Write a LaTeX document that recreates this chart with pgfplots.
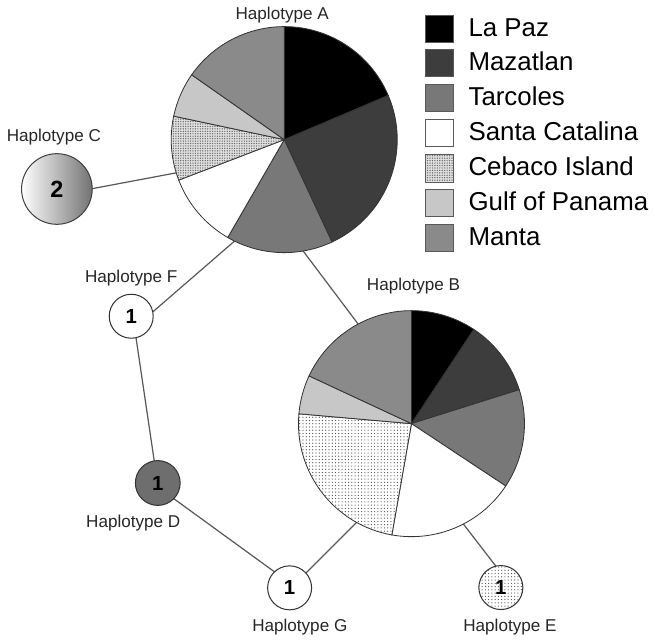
\documentclass[border=0pt]{standalone}
\usepackage{fontspec}
\setmainfont{Liberation Sans}
\usepackage{pgfplots}
\pgfplotsset{compat=1.18}
\usetikzlibrary{patterns.meta}

\newcommand{\R}{55.5pt}
\newcommand{\slice}[5]{\filldraw[#5] (axis cs:#1,#2) -- ++(#3:\R) arc[start angle=#3, end angle=#4, radius=\R] -- cycle;}
\newcommand{\labfont}{\fontsize{8.4}{10}\selectfont}
\newcommand{\legfont}{\fontsize{12.7}{15}\selectfont}
\newcommand{\numfont}{\fontsize{10}{12}\selectfont\bfseries}

\tikzset{
  pieline/.style={draw=black!80, line width=0.4pt},
  lapaz/.style={pieline, fill=black},
  mazatlan/.style={pieline, fill=black!76},
  tarcoles/.style={pieline, fill=black!53},
  santacat/.style={pieline, fill=white},
  cebacoA/.style={pieline, fill=black!12, postaction={pattern={Dots[distance=1.2pt,radius=0.35pt]}, pattern color=black!60}},
  cebacoB/.style={pieline, fill=white, postaction={pattern={Dots[distance=1.6pt,radius=0.3pt]}, pattern color=black!70}},
  gulf/.style={pieline, fill=black!22},
  manta/.style={pieline, fill=black!46},
  edge/.style={black!65, line width=0.6pt},
}

\begin{document}
\begin{tikzpicture}
\begin{axis}[
  scale only axis, width=327.5pt, height=318pt,
  xmin=0, xmax=655, ymin=0, ymax=636, y dir=reverse,
  hide axis, clip=false]

% network edges
\addplot[edge] coordinates {(95,194) (188,176.5)};        % C - A
\addplot[edge] coordinates {(158,315) (250,235.3)};       % F - A
\addplot[edge] coordinates {(298,243) (365,332)};         % A - B
\addplot[edge] coordinates {(141,330) (162,472)};         % F - D
\addplot[edge] coordinates {(175,494.4) (280,570.7)};     % D - G
\addplot[edge] coordinates {(293.3,586.8) (370,510)};     % G - B
\addplot[edge] coordinates {(499,568) (445,498)};         % E - B

% Haplotype A pie (degrees): 67, 88, 55, 39, 33, 23, 55
\slice{288}{145}{90}{23}{lapaz}
\slice{288}{145}{23}{-65}{mazatlan}
\slice{288}{145}{-65}{-120}{tarcoles}
\slice{288}{145}{-120}{-159}{santacat}
\slice{288}{145}{-159}{-192}{cebacoA}
\slice{288}{145}{-192}{-215}{gulf}
\slice{288}{145}{-215}{-270}{manta}

% Haplotype B pie (degrees): 33.5, 39, 51, 66.5, 85, 20, 65
\slice{413}{424}{90}{56.5}{lapaz}
\slice{413}{424}{56.5}{17.5}{mazatlan}
\slice{413}{424}{17.5}{-33.5}{tarcoles}
\slice{413}{424}{-33.5}{-100}{santacat}
\slice{413}{424}{-100}{-185}{cebacoB}
\slice{413}{424}{-185}{-205}{gulf}
\slice{413}{424}{-205}{-270}{manta}

% Haplotype C
\shadedraw[left color=white, right color=black!55, draw=black!75, line width=0.5pt] (axis cs:64.7,193.5) circle[radius=17.35pt];
\node[font=\fontsize{11.5}{13}\selectfont\bfseries] at (axis cs:64.7,193.5) {2};

% Haplotypes F, G (white), D (grey)
\addplot[only marks, mark=*, mark size=10.8pt,
  mark options={fill=white, draw=black!80, line width=0.5pt},
  nodes near coords, point meta=explicit symbolic,
  every node near coord/.append style={anchor=center, font=\numfont}]
  coordinates {(137.7,318.5) [1] (293.3,585.3) [1]};
\addplot[only marks, mark=*, mark size=11pt,
  mark options={fill=black!57, draw=black!80, line width=0.5pt},
  nodes near coords, point meta=explicit symbolic,
  every node near coord/.append style={anchor=center, font=\numfont}]
  coordinates {(163.8,482.3) [1]};
% Haplotype E (dotted, one individual)
\filldraw[cebacoB, draw=black!80, line width=0.5pt] (axis cs:500.8,585) circle[radius=10.8pt];
\node[font=\numfont] at (axis cs:500.8,585) {1};

% labels
\node[anchor=base, font=\labfont, text=black!85] at (axis cs:286,26.7) {Haplotype A};
\node[anchor=base, font=\labfont, text=black!85] at (axis cs:415,293.3) {Haplotype B};
\node[anchor=base, font=\labfont, text=black!85] at (axis cs:61.7,147.3) {Haplotype C};
\node[anchor=base, font=\labfont, text=black!85] at (axis cs:137.7,285) {Haplotype F};
\node[anchor=base, font=\labfont, text=black!85] at (axis cs:139.7,525.7) {Haplotype D};
\node[anchor=base, font=\labfont, text=black!85] at (axis cs:303.3,628.3) {Haplotype G};
\node[anchor=base, font=\labfont, text=black!85] at (axis cs:509.7,628.3) {Haplotype E};

% legend
\filldraw[lapaz, draw=black!65, line width=0.5pt] (axis cs:426.7,22.7) rectangle (axis cs:454,49.4);
\node[anchor=base west, font=\legfont] at (axis cs:462,43.3) {La Paz};
\filldraw[mazatlan, draw=black!65, line width=0.5pt] (axis cs:426.7,56.7) rectangle (axis cs:454,83.4);
\node[anchor=base west, font=\legfont] at (axis cs:462,77.3) {Mazatlan};
\filldraw[tarcoles, draw=black!65, line width=0.5pt] (axis cs:426.7,90.7) rectangle (axis cs:454,117.4);
\node[anchor=base west, font=\legfont] at (axis cs:462,111.3) {Tarcoles};
\filldraw[santacat, draw=black!65, line width=0.5pt] (axis cs:426.7,125) rectangle (axis cs:454,151.7);
\node[anchor=base west, font=\legfont] at (axis cs:462,145.6) {Santa Catalina};
\filldraw[cebacoA, draw=black!65, line width=0.5pt] (axis cs:426.7,160) rectangle (axis cs:454,186.7);
\node[anchor=base west, font=\legfont] at (axis cs:462,180.6) {Cebaco Island};
\filldraw[gulf, draw=black!65, line width=0.5pt] (axis cs:426.7,194) rectangle (axis cs:454,220.7);
\node[anchor=base west, font=\legfont] at (axis cs:462,214.6) {Gulf of Panama};
\filldraw[manta, draw=black!65, line width=0.5pt] (axis cs:426.7,228.3) rectangle (axis cs:454,255);
\node[anchor=base west, font=\legfont] at (axis cs:462,248.9) {Manta};

\end{axis}
\end{tikzpicture}
\end{document}
